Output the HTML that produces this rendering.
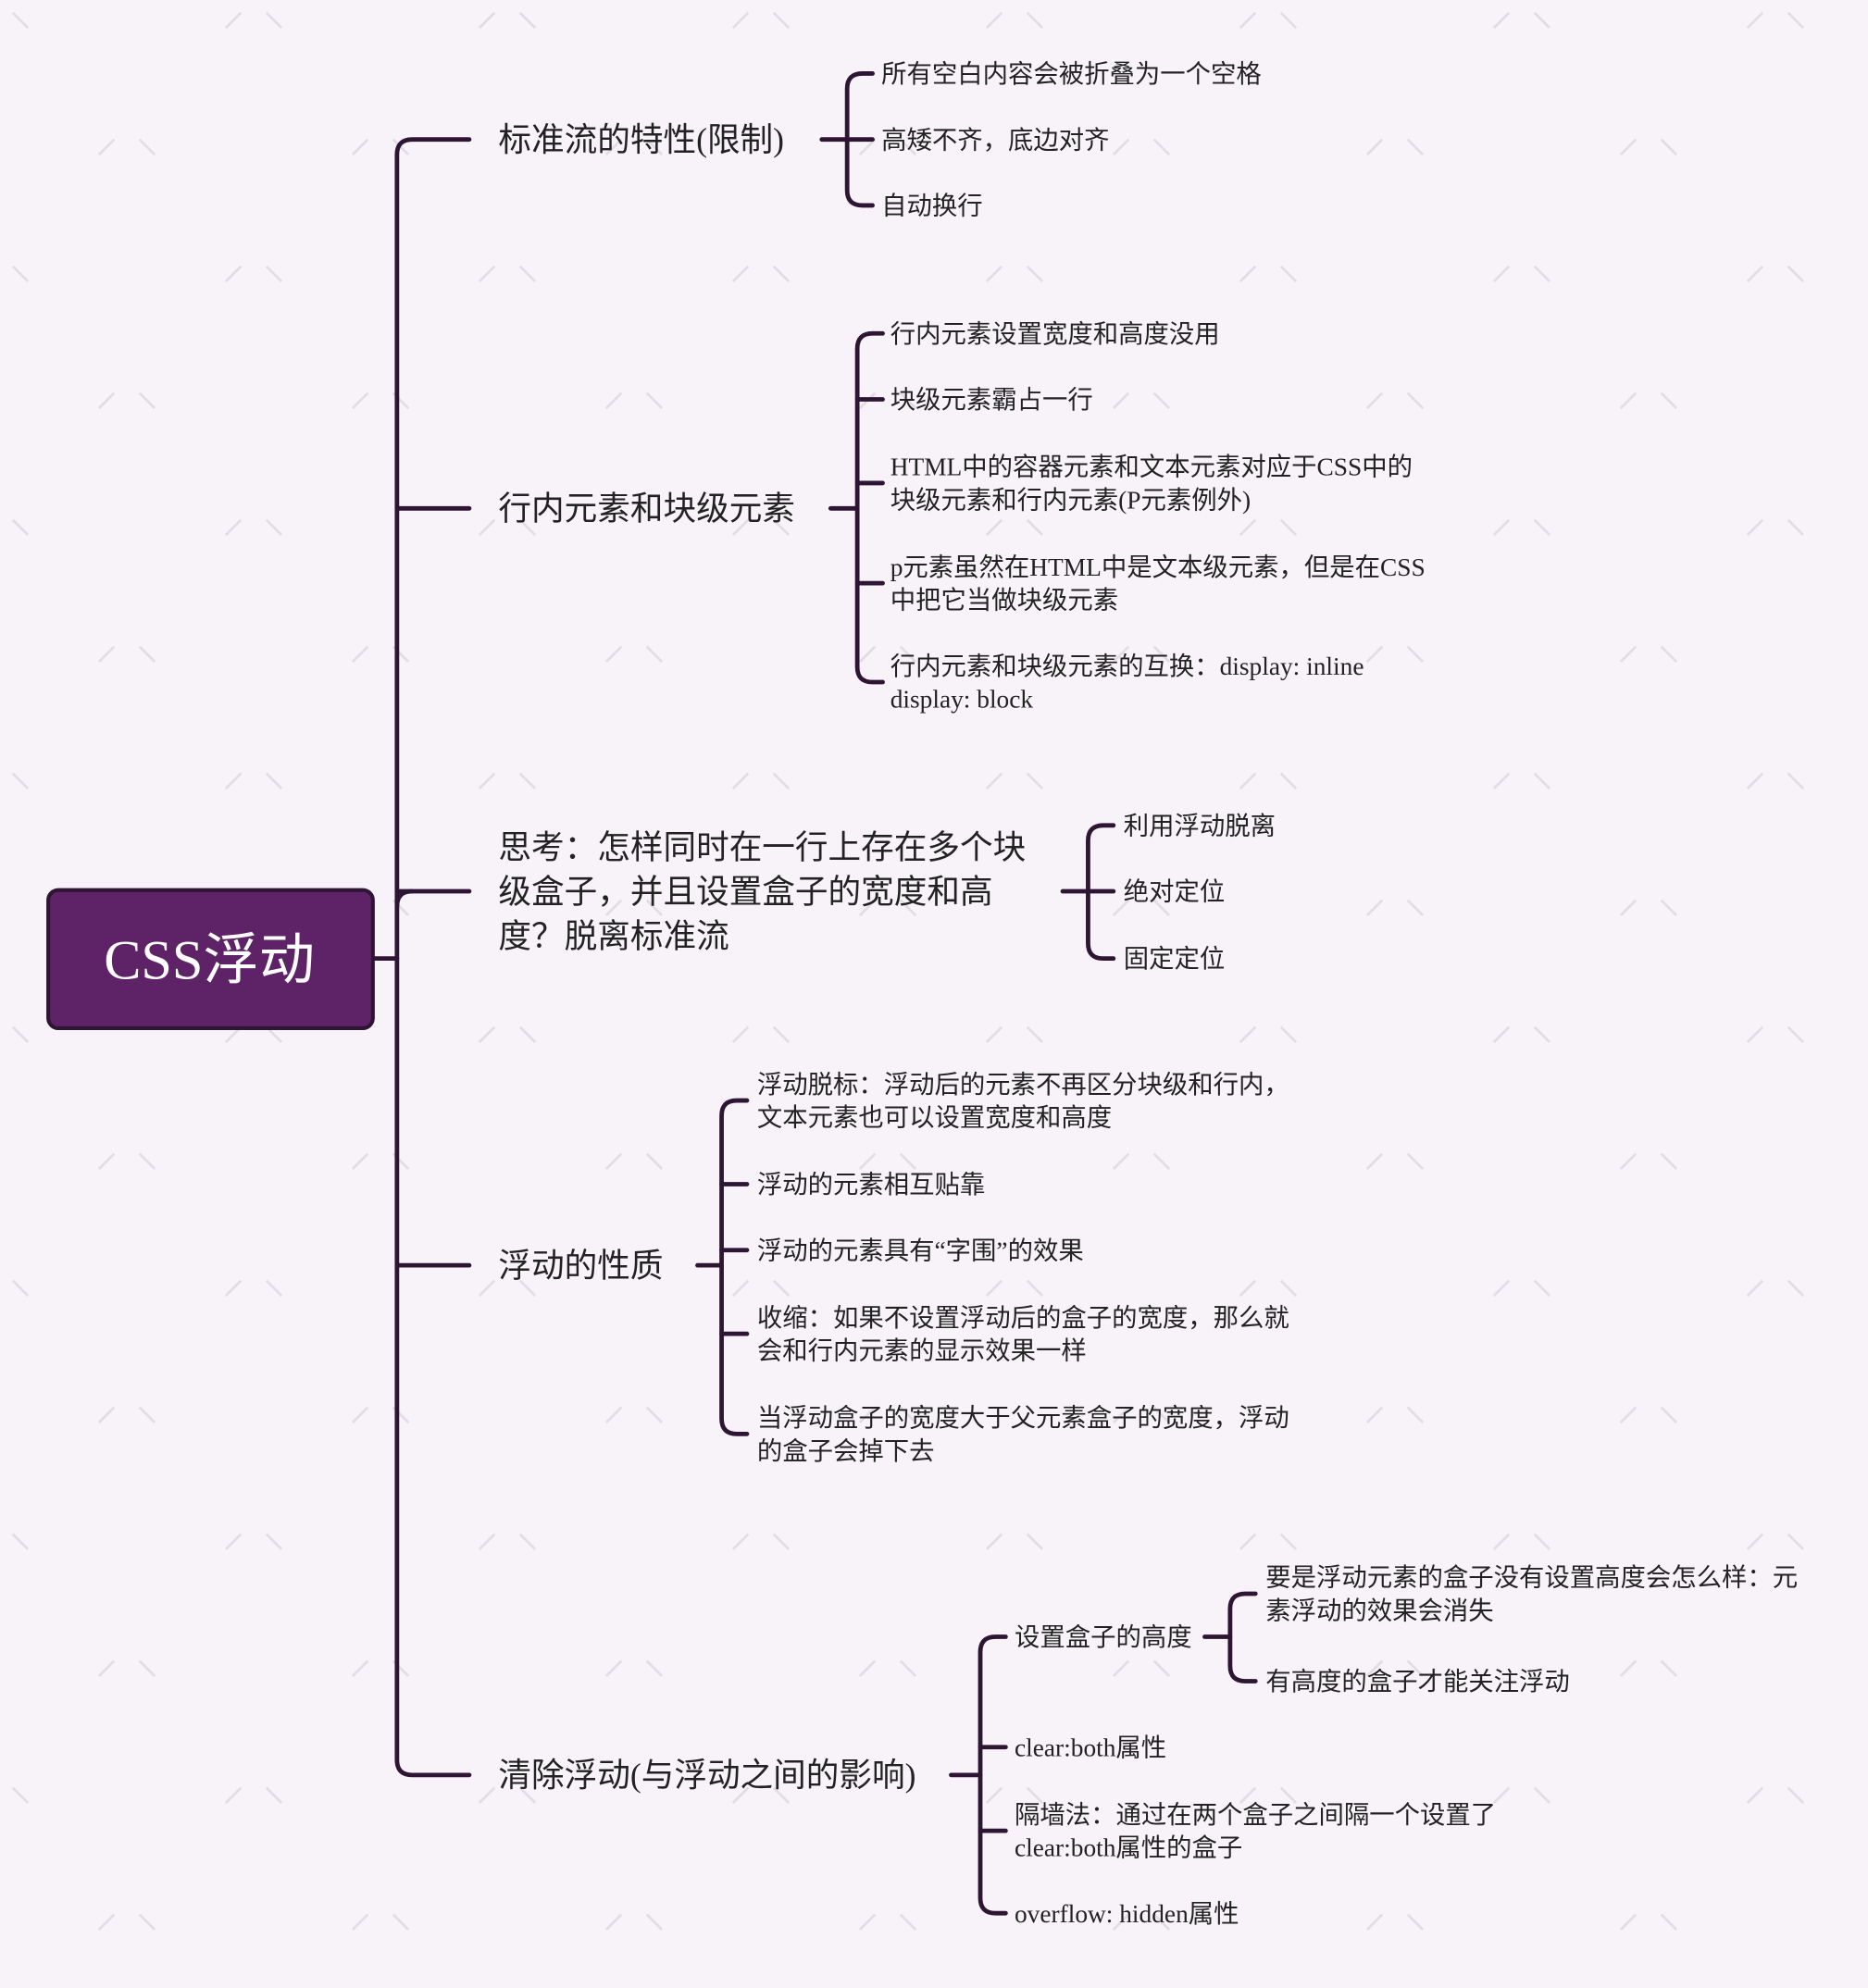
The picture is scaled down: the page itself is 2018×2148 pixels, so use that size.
<!DOCTYPE html>
<html><head><meta charset="utf-8"><style>
html,body{margin:0;padding:0;background:#f7f3f8;}
svg{display:block}
text{font-family:"Liberation Serif","Noto Sans CJK SC",serif;fill:#222;}
</style></head><body>
<svg width="2018" height="2148" viewBox="0 0 1473 1568" xmlns="http://www.w3.org/2000/svg">
<defs>
<pattern id="wm" width="200" height="200" patternUnits="userSpaceOnUse">
<g stroke="#e2dde4" stroke-width="2">
<line x1="10" y1="10" x2="22" y2="22"/><line x1="110" y1="110" x2="122" y2="122"/>
<line x1="190" y1="10" x2="178" y2="22"/><line x1="90" y1="110" x2="78" y2="122"/>
</g></pattern>
</defs>
<rect width="1473" height="1568" fill="#f7f3f8"/>
<rect width="1473" height="1568" fill="url(#wm)"/>
<g fill="none" stroke="#2d1533" stroke-width="3.5" stroke-linecap="round">
<!-- root to main -->
<path d="M294,756 H313"/>
<path d="M370,110 H325 Q313,110 313,122 V1388 Q313,1400 325,1400 H370"/>
<path d="M313,401 H370 M313,703 H370 M313,998 H370"/>
<path d="M313,715 Q313,703 325,703"/>
<!-- branch 1 -->
<path d="M648,110 H688"/>
<path d="M688,58 H680 Q668,58 668,70 V150 Q668,162 680,162 H688"/>
<!-- branch 2 -->
<path d="M655,401 H676"/>
<path d="M696,263 H688 Q676,263 676,275 V526 Q676,538 688,538 H696"/>
<path d="M676,315 H696 M676,381 H696 M676,460 H696"/>
<!-- branch 3 -->
<path d="M838,703 H878"/>
<path d="M878,651 H870 Q858,651 858,663 V744 Q858,756 870,756 H878"/>
<!-- branch 4 -->
<path d="M550,998 H569"/>
<path d="M589,868 H581 Q569,868 569,880 V1119 Q569,1131 581,1131 H589"/>
<path d="M569,934 H589 M569,986 H589 M569,1052 H589"/>
<!-- branch 5 -->
<path d="M750,1400 H773"/>
<path d="M793,1291 H785 Q773,1291 773,1303 V1497 Q773,1509 785,1509 H793"/>
<path d="M773,1378 H793 M773,1444 H793"/>
<path d="M950,1291 H970"/>
<path d="M990,1257 H982 Q970,1257 970,1269 V1314 Q970,1326 982,1326 H990"/>
</g>
<rect x="38" y="702" width="256" height="109" rx="8" fill="#5e2366" stroke="#2d1533" stroke-width="3"/>
<text x="165" y="772" text-anchor="middle" font-size="44" style="fill:#fff">CSS浮动</text>
<g font-size="26">
<text x="393" y="119">标准流的特性(限制)</text>
<text x="393" y="410">行内元素和块级元素</text>
<text x="393" y="677">思考：怎样同时在一行上存在多个块</text>
<text x="393" y="712">级盒子，并且设置盒子的宽度和高</text>
<text x="393" y="747">度？脱离标准流</text>
<text x="393" y="1007">浮动的性质</text>
<text x="393" y="1409">清除浮动(与浮动之间的影响)</text>
</g>
<g font-size="20">
<text x="695" y="65">所有空白内容会被折叠为一个空格</text>
<text x="695" y="117">高矮不齐，底边对齐</text>
<text x="695" y="169">自动换行</text>
<text x="702" y="270">行内元素设置宽度和高度没用</text>
<text x="702" y="322">块级元素霸占一行</text>
<text x="702" y="375">HTML中的容器元素和文本元素对应于CSS中的</text>
<text x="702" y="401">块级元素和行内元素(P元素例外)</text>
<text x="702" y="454">p元素虽然在HTML中是文本级元素，但是在CSS</text>
<text x="702" y="480">中把它当做块级元素</text>
<text x="702" y="532">行内元素和块级元素的互换：display: inline</text>
<text x="702" y="558">display: block</text>
<text x="886" y="658">利用浮动脱离</text>
<text x="886" y="710">绝对定位</text>
<text x="886" y="763">固定定位</text>
<text x="597" y="862">浮动脱标：浮动后的元素不再区分块级和行内，</text>
<text x="597" y="888">文本元素也可以设置宽度和高度</text>
<text x="597" y="941">浮动的元素相互贴靠</text>
<text x="597" y="993">浮动的元素具有“字围”的效果</text>
<text x="597" y="1046">收缩：如果不设置浮动后的盒子的宽度，那么就</text>
<text x="597" y="1072">会和行内元素的显示效果一样</text>
<text x="597" y="1125">当浮动盒子的宽度大于父元素盒子的宽度，浮动</text>
<text x="597" y="1151">的盒子会掉下去</text>
<text x="800" y="1298">设置盒子的高度</text>
<text x="998" y="1251">要是浮动元素的盒子没有设置高度会怎么样：元</text>
<text x="998" y="1277">素浮动的效果会消失</text>
<text x="998" y="1333">有高度的盒子才能关注浮动</text>
<text x="800" y="1385">clear:both属性</text>
<text x="800" y="1438">隔墙法：通过在两个盒子之间隔一个设置了</text>
<text x="800" y="1464">clear:both属性的盒子</text>
<text x="800" y="1516">overflow: hidden属性</text>
</g>
</svg>
</body></html>
